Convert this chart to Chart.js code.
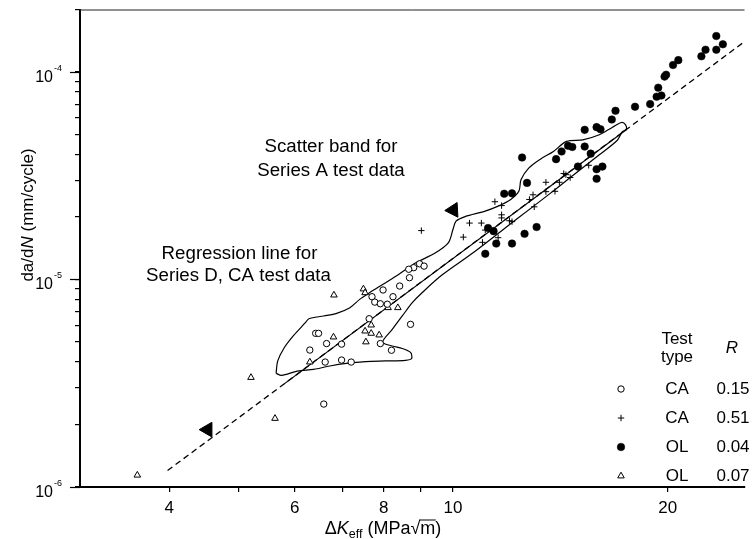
<!DOCTYPE html>
<html><head><meta charset="utf-8">
<script src="https://cdn.jsdelivr.net/npm/chart.js@4.4.0/dist/chart.umd.min.js"></script>
<style>html,body{margin:0;padding:0;background:#fff;overflow:hidden}canvas{display:block}</style>
</head><body>
<canvas id="c" width="754" height="539"></canvas>
<script>
// ---- Data ----
// CA, R = 0.15 (open circles)
const caOpenX = [8.98, 9.11, 8.81, 8.67, 8.69, 8.42, 7.98, 8.24, 7.70, 7.77, 7.91, 8.09, 7.63, 8.72, 6.42, 6.48, 6.65, 6.98, 6.30, 7.91, 8.20, 6.62, 6.98, 7.20, 6.59];
const caOpenY = [1.19e-5, 1.16e-5, 1.14e-5, 1.12e-5, 1.02e-5, 9.3e-6, 8.9e-6, 8.26e-6, 8.26e-6, 7.78e-6, 7.64e-6, 7.6e-6, 6.47e-6, 6.08e-6, 5.5e-6, 5.5e-6, 4.91e-6, 4.88e-6, 4.57e-6, 4.91e-6, 4.56e-6, 4.0e-6, 4.09e-6, 4.0e-6, 2.51e-6];
// CA, R = 0.51 (plus signs)
const caPlusX = [9.03, 10.55, 10.34, 11.45, 11.7, 11.7, 11.7, 12.0, 12.1, 10.96, 11.1, 11.0, 11.57, 12.8, 12.95, 13.0, 13.5, 13.5, 13.9, 14.1, 14.3, 14.4, 14.6, 15.5];
const caPlusY = [1.72e-5, 1.87e-5, 1.60e-5, 2.37e-5, 2.27e-5, 2.05e-5, 1.98e-5, 1.92e-5, 1.90e-5, 1.87e-5, 1.73e-5, 1.51e-5, 1.59e-5, 2.43e-5, 2.56e-5, 2.24e-5, 2.65e-5, 2.94e-5, 2.66e-5, 2.94e-5, 3.24e-5, 3.2e-5, 3.1e-5, 3.55e-5];
// OL, R = 0.04 (filled circles)
const olDotX = [23.4, 23.9, 23.4, 22.6, 22.3, 20.7, 20.35, 19.9, 19.8, 19.4, 19.6, 19.3, 18.9, 18.0, 16.9, 16.7, 15.9, 16.1, 15.3, 14.5, 14.7, 14.2, 15.3, 15.6, 13.95, 12.5, 14.97, 16.2, 15.9, 15.9, 12.7, 11.8, 12.1, 11.2, 11.4, 13.1, 12.6, 12.1, 11.5, 11.1];
const olDotY = [1.49e-4, 1.36e-4, 1.28e-4, 1.28e-4, 1.19e-4, 1.14e-4, 1.08e-4, 9.7e-5, 9.5e-5, 8.4e-5, 7.7e-5, 7.6e-5, 7.0e-5, 6.8e-5, 6.5e-5, 5.9e-5, 5.42e-5, 5.3e-5, 5.26e-5, 4.41e-5, 4.35e-5, 4.14e-5, 4.37e-5, 4.04e-5, 3.8e-5, 3.87e-5, 3.5e-5, 3.5e-5, 3.4e-5, 3.06e-5, 2.92e-5, 2.59e-5, 2.6e-5, 1.77e-5, 1.71e-5, 1.79e-5, 1.66e-5, 1.49e-5, 1.49e-5, 1.33e-5];
// OL, R = 0.07 (open triangles)
const olTriX = [7.49, 7.53, 6.81, 8.11, 8.37, 7.68, 7.53, 7.68, 7.88, 7.55, 6.80, 6.30, 5.21, 5.63, 3.61];
const olTriY = [9.0e-6, 8.63e-6, 8.41e-6, 7.31e-6, 7.31e-6, 6.03e-6, 5.64e-6, 5.5e-6, 5.4e-6, 5.0e-6, 5.28e-6, 4.0e-6, 3.37e-6, 2.14e-6, 1.14e-6];
// Scatter band for Series A test data (closed outline)
const bandX = [5.65, 5.68, 5.80, 5.98, 6.21, 6.28, 6.59, 6.87, 7.17, 7.40, 7.64, 7.97, 8.40, 8.86, 9.44, 9.85, 10.0, 10.1, 10.4, 11.07, 11.55, 12.05, 12.37, 12.46, 12.77, 13.26, 13.83, 14.43, 15.21, 16.04, 16.74, 17.24, 17.46, 17.5, 17.28, 17.0, 16.04, 14.74, 13.69, 12.30, 10.72, 9.65, 9.05, 8.77, 8.49, 8.22, 7.97, 8.22, 8.49, 8.72, 8.75, 8.58, 8.05, 7.55, 7.09, 6.72, 6.38, 6.05, 5.75, 5.65];
const bandY = [3.53e-6, 4.05e-6, 4.69e-6, 5.38e-6, 6.19e-6, 6.47e-6, 6.67e-6, 6.87e-6, 7.31e-6, 8.02e-6, 8.63e-6, 9.46e-6, 1.06e-5, 1.20e-5, 1.34e-5, 1.50e-5, 1.74e-5, 1.91e-5, 2.01e-5, 2.13e-5, 2.25e-5, 2.43e-5, 2.66e-5, 3.03e-5, 3.44e-5, 3.8e-5, 4.14e-5, 4.63e-5, 4.71e-5, 4.98e-5, 5.42e-5, 5.71e-5, 5.56e-5, 5.3e-5, 5.16e-5, 4.69e-5, 3.99e-5, 3.18e-5, 2.60e-5, 1.96e-5, 1.36e-5, 1.05e-5, 8.63e-6, 7.73e-6, 6.67e-6, 5.75e-6, 5.0e-6, 4.78e-6, 4.65e-6, 4.45e-6, 4.16e-6, 4.08e-6, 4.05e-6, 4.02e-6, 3.94e-6, 3.83e-6, 3.69e-6, 3.62e-6, 3.45e-6, 3.53e-6];
// Regression line for Series D, CA test data (dashed full extent, solid inside band)
const regLineX = [3.98, 25.63];
const regLineY = [1.2e-6, 1.4e-4];
const regSolidX = [5.8, 17.5];
const regSolidY = [3.14e-6, 5.27e-5];
// Arrow heads pointing at band / line
const arrowX = [4.53, 10.01];
const arrowY = [1.89e-6, 2.16e-5];
const arrowRot = [270, 147];
// Axis ticks
const xTickValues = [4, 5, 6, 7, 8, 9, 10, 20];
const xTickLabels = ['4', '', '6', '', '8', '', '10', '20'];
const yTickValues = [1e-6, 2e-6, 3e-6, 4e-6, 5e-6, 6e-6, 7e-6, 8e-6, 9e-6, 1e-5, 2e-5, 3e-5, 4e-5, 5e-5, 6e-5, 7e-5, 8e-5, 9e-5, 1e-4, 2e-4];
const yDecadeValues = [1e-6, 1e-5, 1e-4];
const yDecadeExps = ['-6', '-5', '-4'];
// Legend table
const legendTypes = ['CA', 'CA', 'OL', 'OL'];
const legendR = ['0.15', '0.51', '0.04', '0.07'];

const FONT = '"Liberation Sans", Arial, Helvetica, sans-serif';
Chart.defaults.font.family = FONT;
Chart.defaults.color = '#000';

function pts(xs, ys) { return xs.map((x, i) => ({ x: x, y: ys[i] })); }

const markerStyles = [
  { pointStyle: 'circle', radius: 3.2, fill: '#fff', stroke: '#000', bw: 1 },
  { pointStyle: 'cross', radius: 3.2, fill: '#000', stroke: '#000', bw: 1 },
  { pointStyle: 'circle', radius: 3.8, fill: '#000', stroke: '#000', bw: 0.5 },
  { pointStyle: 'triangle', radius: 3.8, fill: '#fff', stroke: '#000', bw: 1 }
];

function drawRuns(ctx, runs, cx, baseline) {
  let total = 0;
  runs.forEach(r => { ctx.font = r.f; r.w = ctx.measureText(r.t).width; total += r.w; });
  let x = cx - total / 2;
  runs.forEach(r => {
    ctx.font = r.f;
    ctx.fillText(r.t, x, baseline + (r.dy || 0));
    if (r.over) {
      ctx.beginPath(); ctx.lineWidth = 1;
      ctx.moveTo(x - 1, baseline - 14); ctx.lineTo(x + r.w + 0.5, baseline - 14); ctx.stroke();
    }
    x += r.w;
  });
}

const decor = {
  id: 'decor',
  afterDraw(chart) {
    const ctx = chart.ctx, ca = chart.chartArea, ys = chart.scales.y;
    ctx.save();
    ctx.strokeStyle = '#222'; ctx.lineWidth = 1;
    ctx.beginPath(); ctx.moveTo(ca.left, ca.top + 0.5); ctx.lineTo(ca.right, ca.top + 0.5); ctx.stroke();
    // y decade ticks and labels
    ctx.strokeStyle = '#000'; ctx.lineWidth = 1.2; ctx.fillStyle = '#000';
    yDecadeValues.forEach((v, i) => {
      const y = Math.round(ys.getPixelForValue(v)) + 0.5;
      ctx.beginPath(); ctx.moveTo(ca.left - 10, y); ctx.lineTo(ca.left, y); ctx.stroke();
      ctx.textBaseline = 'alphabetic';
      ctx.font = '16px ' + FONT; ctx.textAlign = 'right';
      ctx.fillText('10', 53, y + 9);
      ctx.font = '9px ' + FONT; ctx.textAlign = 'left';
      ctx.fillText(yDecadeExps[i], 54, y - 2);
    });
    // y title
    ctx.save();
    ctx.translate(33, 215); ctx.rotate(-Math.PI / 2);
    ctx.textAlign = 'left'; ctx.textBaseline = 'alphabetic';
    drawRuns(ctx, [
      { t: 'da/d', f: '17px ' + FONT },
      { t: 'N', f: 'italic 17px ' + FONT },
      { t: ' (mm/cycle)', f: '17px ' + FONT }
    ], 0, 0);
    ctx.restore();
    // x title
    ctx.textAlign = 'left'; ctx.textBaseline = 'alphabetic';
    drawRuns(ctx, [
      { t: '\u0394', f: '18px ' + FONT },
      { t: 'K', f: 'italic 18px ' + FONT },
      { t: 'eff', f: '12.5px ' + FONT, dy: 4 },
      { t: ' (MPa', f: '18px ' + FONT },
      { t: '\u221A', f: '18px ' + FONT },
      { t: 'm', f: '18px ' + FONT, over: true },
      { t: ')', f: '18px ' + FONT }
    ], 383, 534);
    // annotations
    ctx.textAlign = 'center'; ctx.textBaseline = 'middle';
    ctx.font = '18.7px ' + FONT;
    ctx.fillText('Scatter band for', 331, 147);
    ctx.fillText('Series A test data', 331, 171);
    ctx.fillText('Regression line for', 239.5, 254);
    ctx.fillText('Series D, CA test data', 238.5, 276);
    // legend table
    ctx.font = '17px ' + FONT;
    ctx.fillText('Test', 677, 339);
    ctx.fillText('type', 677, 357);
    ctx.font = 'italic 17px ' + FONT;
    ctx.fillText('R', 732, 348);
    ctx.font = '17px ' + FONT;
    legendTypes.forEach((t, i) => {
      const y = 389 + i * 29;
      ctx.fillStyle = '#000';
      ctx.textAlign = 'center';
      ctx.fillText(t, 677, y);
      ctx.fillText(legendR[i], 733, y);
      const m = markerStyles[i];
      ctx.fillStyle = m.fill; ctx.strokeStyle = m.stroke; ctx.lineWidth = m.bw;
      Chart.helpers.drawPoint(ctx, { pointStyle: m.pointStyle, radius: m.radius, rotation: 0, borderWidth: m.bw }, 621, y);
      ctx.fillStyle = '#000';
    });
    ctx.restore();
  }
};

new Chart(document.getElementById('c'), {
  type: 'scatter',
  data: {
    datasets: [
      { label: 'CA 0.15', data: pts(caOpenX, caOpenY), pointStyle: 'circle', pointRadius: 3.2, backgroundColor: '#fff', borderColor: '#000', borderWidth: 1, order: 1 },
      { label: 'CA 0.51', data: pts(caPlusX, caPlusY), pointStyle: 'cross', pointRadius: 3.2, backgroundColor: '#000', borderColor: '#000', borderWidth: 1, order: 1 },
      { label: 'OL 0.04', data: pts(olDotX, olDotY), pointStyle: 'circle', pointRadius: 3.8, backgroundColor: '#000', borderColor: '#000', borderWidth: 0.5, order: 1 },
      { label: 'OL 0.07', data: pts(olTriX, olTriY), pointStyle: 'triangle', pointRadius: 3.8, backgroundColor: '#fff', borderColor: '#000', borderWidth: 1, order: 1 },
      { label: 'arrows', data: pts(arrowX, arrowY), pointStyle: 'triangle', pointRadius: 8.5, rotation: arrowRot, backgroundColor: '#000', borderColor: '#000', borderWidth: 1, order: 1 },
      { label: 'band', data: pts(bandX, bandY), showLine: true, pointRadius: 0, borderColor: '#000', borderWidth: 1.2, tension: 0.3, fill: false, order: 5 },
      { label: 'regression', data: pts(regLineX, regLineY), showLine: true, pointRadius: 0, borderColor: '#000', borderWidth: 1.3, borderDash: [6, 4], fill: false, order: 5 },
      { label: 'regression solid', data: pts(regSolidX, regSolidY), showLine: true, pointRadius: 0, borderColor: '#000', borderWidth: 1.2, fill: false, order: 4 }
    ]
  },
  options: {
    responsive: false,
    animation: false,
    events: [],
    layout: { padding: { top: 9, right: 0, bottom: 0, left: 0 } },
    plugins: { legend: { display: false }, tooltip: { enabled: false } },
    scales: {
      x: {
        type: 'logarithmic', min: 3, max: 25.63, position: 'bottom',
        afterBuildTicks: s => { s.ticks = xTickValues.map(v => ({ value: v })); },
        afterFit: s => { s.height = 52; },
        border: { display: true, color: '#000', width: 2 },
        grid: { display: true, drawOnChartArea: false, drawTicks: true, tickLength: 5, color: '#000', lineWidth: 1.2 },
        ticks: {
          autoSkip: false, maxRotation: 0, padding: 6,
          font: { size: 17, family: FONT }, color: '#000',
          callback: v => { const i = xTickValues.indexOf(v); return i >= 0 ? xTickLabels[i] : ''; }
        }
      },
      y: {
        type: 'logarithmic', min: 1e-6, max: 2e-4, position: 'left',
        afterBuildTicks: s => { s.ticks = yTickValues.map(v => ({ value: v })); },
        afterFit: s => { s.width = 80; },
        border: { display: true, color: '#000', width: 2 },
        grid: { display: true, drawOnChartArea: false, drawTicks: true, tickLength: 5, color: '#000', lineWidth: 1.2 },
        ticks: { display: false }
      }
    }
  },
  plugins: [decor]
});
</script>
</body></html>
